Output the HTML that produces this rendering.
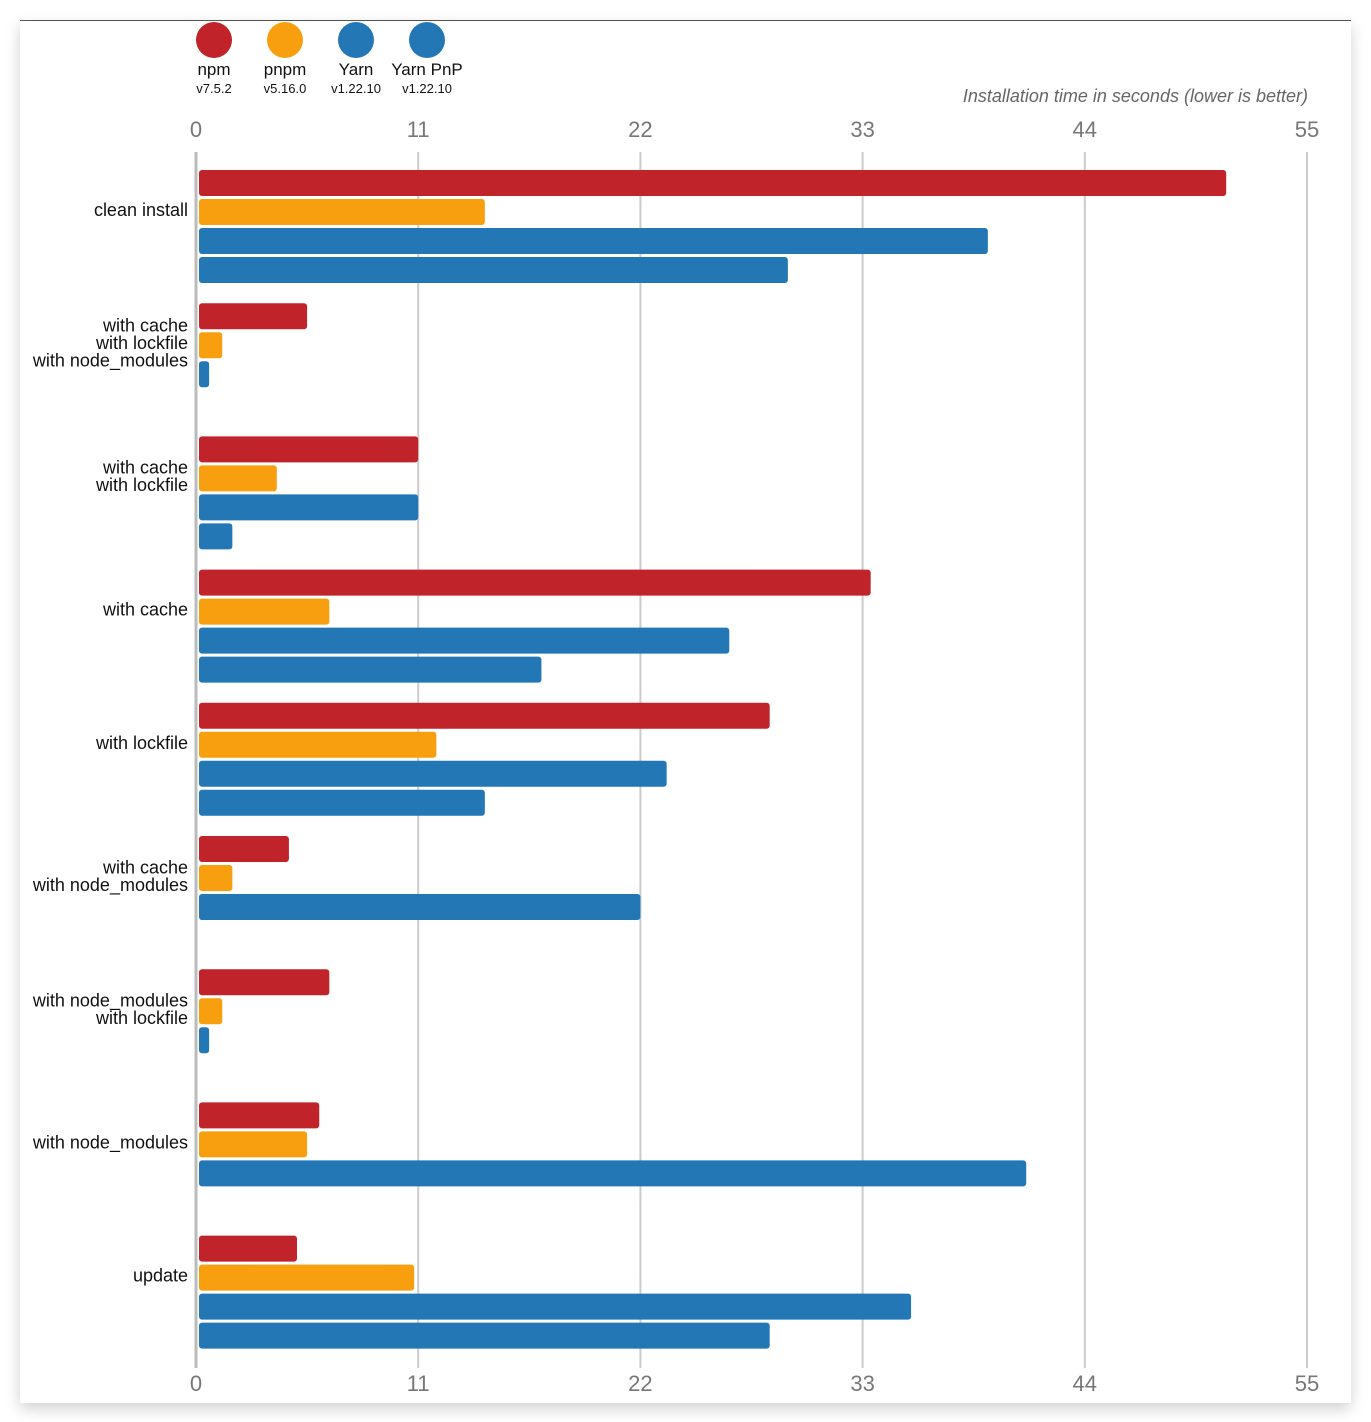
<!DOCTYPE html>
<html><head><meta charset="utf-8"><style>
html,body{margin:0;padding:0;background:#fff;width:1371px;height:1422px;overflow:hidden}
#card{position:absolute;left:20px;top:20px;width:1331px;height:1382px;background:#fff;border-top:1px solid #555;box-shadow:0 6px 14px rgba(0,0,0,0.18)}
svg{position:absolute;left:0;top:0}
text{font-family:"Liberation Sans",sans-serif}
</style></head><body>
<div id="card"></div>
<svg id="chart" width="1371" height="1422"></svg>
<script>
const categories=[["clean install"],["with cache","with lockfile","with node_modules"],["with cache","with lockfile"],["with cache"],["with lockfile"],["with cache","with node_modules"],["with node_modules","with lockfile"],["with node_modules"],["update"]];
const seriesNames=["npm","pnpm","Yarn","Yarn PnP"];
const seriesVersions=["v7.5.2","v5.16.0","v1.22.10","v1.22.10"];
const seriesColors=["#c0232a","#f79f0f","#2277b4","#2277b4"];
const npmValues=[51.0,5.5,11.0,33.4,28.4,4.6,6.6,6.1,5.0];
const pnpmValues=[14.3,1.3,4.0,6.6,11.9,1.8,1.3,5.5,10.8];
const yarnValues=[39.2,0.65,11.0,26.4,23.3,22.0,0.65,41.1,35.4];
const pnpValues=[29.3,null,1.8,17.1,14.3,null,null,null,28.4];
const tickValues=[0,11,22,33,44,55];

const NS="http://www.w3.org/2000/svg";
const svg=document.getElementById('chart');
function mk(tag,attrs,parent){const e=document.createElementNS(NS,tag);for(const k in attrs)e.setAttribute(k,attrs[k]);(parent||svg).appendChild(e);return e;}
const x0=196,x1=1307,xMax=55;
const xs=v=>x0+(x1-x0)*v/xMax;
const groupTop0=170,groupStep=133.2,barStep=29,barH=26;
const yGroup=i=>groupTop0+i*groupStep;

tickValues.forEach((t,i)=>{
  const l=mk('line',{x1:xs(t),x2:xs(t),y1:152,y2:1368,stroke:i===0?'#bbb':'#ccc','stroke-width':i===0?3:2});
  
  
  [137,1391].forEach((y,j)=>{
    const tx=mk('text',{x:xs(t),y:y,'text-anchor':'middle','font-size':22,fill:'#777'});
    tx.textContent=t;
    
    
  });
});
const title=mk('text',{x:1308,y:102,'text-anchor':'end','font-size':18,'font-style':'italic',fill:'#666'});
title.textContent='Installation time in seconds (lower is better)';



const legX=[214,285,356,427];
seriesNames.forEach((n,i)=>{
  const c=mk('circle',{cx:legX[i],cy:40,r:18,fill:seriesColors[i]});
  
  
  const t=mk('text',{x:legX[i],y:75,'text-anchor':'middle','font-size':17,fill:'#111'});
  t.textContent=n;
  
  
  const v=mk('text',{x:legX[i],y:93,'text-anchor':'middle','font-size':13,fill:'#111'});
  v.textContent=seriesVersions[i];
  
  
});

const series=[npmValues,pnpmValues,yarnValues,pnpValues];
categories.forEach((cat,gi)=>{
  const top=yGroup(gi);
  const cy=top+40, lh=17.5;
  cat.forEach((line,li)=>{
    const t=mk('text',{x:188,y:cy+(li-(cat.length-1)/2)*lh+6,'text-anchor':'end','font-size':18,fill:'#111'});
    t.textContent=line;
    
    
  });
  series.forEach((vals,si)=>{
    const v=vals[gi];
    if(v==null)return;
    const r=mk('rect',{x:199,y:top+si*barStep,width:Math.max(0,xs(v)-199),height:barH,rx:3,fill:seriesColors[si]});
    
    
  });
});
</script>
</body></html>
